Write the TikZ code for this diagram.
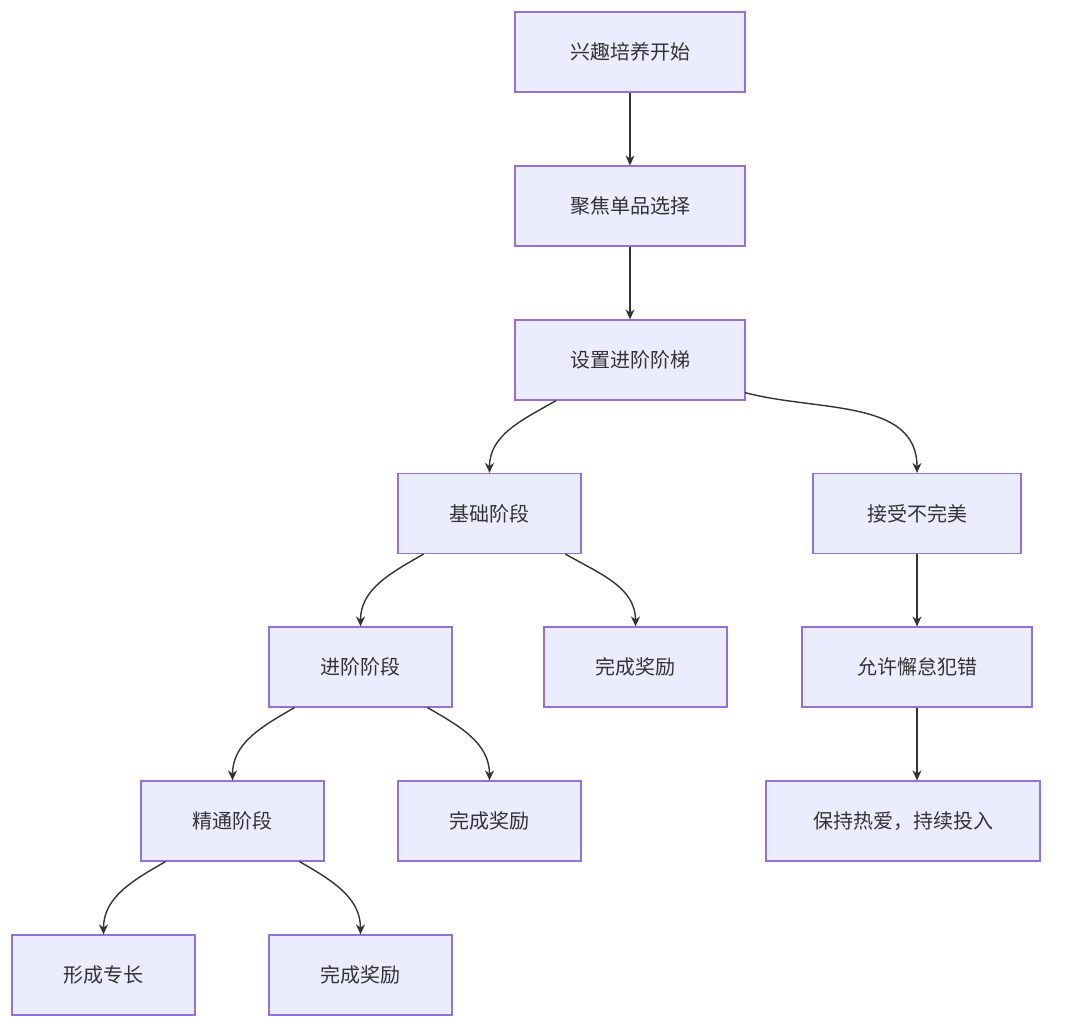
\documentclass[tikz,border=0pt]{standalone}
\usepackage{fontspec}
\setmainfont{Noto Sans CJK SC}
\usetikzlibrary{arrows.meta}
\definecolor{bx}{HTML}{ECECFF}
\definecolor{bd}{HTML}{9370DB}
\definecolor{ln}{HTML}{333333}
\tikzset{box/.style={draw=bd,fill=bx,line width=1.2pt,minimum height=80pt,inner sep=0pt,font=\fontsize{20}{24}\selectfont,text=ln},
ed/.style={draw=ln,line width=1.4pt,-{Stealth[length=10pt,width=9pt]}}}
\begin{document}
\begin{tikzpicture}[x=1pt,y=-1pt]
\useasboundingbox[fill=white] (0,0) rectangle (1080,1027);
\node[box,minimum width=230pt] (A) at (630,52) {兴趣培养开始};
\node[box,minimum width=230pt] (B) at (630,206) {聚焦单品选择};
\node[box,minimum width=230pt] (C) at (630,360) {设置进阶阶梯};
\node[box,minimum width=183pt] (D) at (489.5,513.5) {基础阶段};
\node[box,minimum width=208pt] (E) at (917,513.5) {接受不完美};
\node[box,minimum width=183pt] (F) at (360.5,667) {进阶阶段};
\node[box,minimum width=183pt] (G) at (635.5,667) {完成奖励};
\node[box,minimum width=230pt] (H) at (917,667) {允许懈怠犯错};
\node[box,minimum width=183pt] (I) at (232.5,821) {精通阶段};
\node[box,minimum width=183pt] (J) at (489.5,821) {完成奖励};
\node[box,minimum width=274pt] (K) at (903,821) {保持热爱，持续投入};
\node[box,minimum width=183pt] (L) at (103.5,975) {形成专长};
\node[box,minimum width=183pt] (M) at (360.5,975) {完成奖励};
\draw[ed] (A) -- (B);
\draw[ed] (B) -- (C);
\draw[ed] ([xshift=-74pt]C.south) to[out=210,in=90] (D.north);
\draw[ed] ([xshift=115pt,yshift=8pt]C.south) to[out=-15,in=90] (E.north);
\draw[ed] ([xshift=-66pt]D.south) to[out=210,in=90] (F.north);
\draw[ed] ([xshift=76pt]D.south) to[out=-30,in=90] (G.north);
\draw[ed] (E) -- (H);
\draw[ed] ([xshift=-66pt]F.south) to[out=210,in=90] (I.north);
\draw[ed] ([xshift=67pt]F.south) to[out=-30,in=90] (J.north);
\draw[ed] (H.south) -- (H.south |- K.north);
\draw[ed] ([xshift=-67pt]I.south) to[out=210,in=90] (L.north);
\draw[ed] ([xshift=67pt]I.south) to[out=-30,in=90] (M.north);
\end{tikzpicture}
\end{document}
